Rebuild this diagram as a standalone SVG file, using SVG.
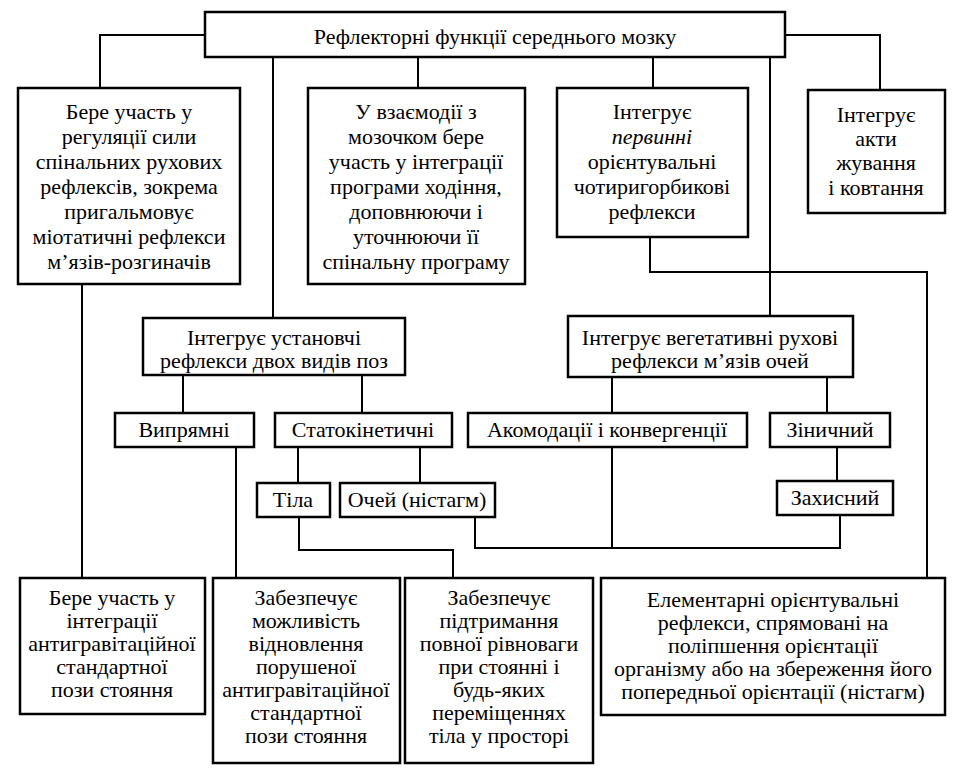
<svg xmlns="http://www.w3.org/2000/svg" width="954" height="779" viewBox="0 0 954 779">
<style>
.b{fill:#fff;stroke:#000;stroke-width:2.5}
.c{fill:none;stroke:#000;stroke-width:2}
text{font-family:"Liberation Serif","Times New Roman",serif;font-size:22px;fill:#000;text-anchor:middle}
</style>
<rect width="954" height="779" fill="#fff"/>
<g id="connectors">
<path class="c" d="M205 35H100V88M785 35H880V90M418 57V88M653 57V88M273 57V318M770 57V316M650 237V272H927V578M82 284V578M236 447V578M183 375V413M362 375V413M298 447V483M420 447V483M612 377V548M827 377V413M837 447V481M299 517V550H453V578M475 517V548H840V515"/>
</g>
<g id="top"><rect class="b" x="205" y="12" width="580" height="45"/><text x="495" y="44">Рефлекторні функції середнього мозку</text></g>
<g id="n1"><rect class="b" x="18" y="88" width="222" height="196"/>
<text x="129" y="119">Бере участь у</text><text x="129" y="144">регуляції сили</text><text x="129" y="169">спінальних рухових</text><text x="129" y="194">рефлексів, зокрема</text><text x="129" y="219">пригальмовує</text><text x="129" y="244">міотатичні рефлекси</text><text x="129" y="269">м’язів-розгиначів</text></g>
<g id="n2"><rect class="b" x="308" y="88" width="217" height="196"/>
<text x="416" y="119">У взаємодії з</text><text x="416" y="144">мозочком бере</text><text x="416" y="169">участь у інтеграції</text><text x="416" y="194">програми ходіння,</text><text x="416" y="219">доповнюючи і</text><text x="416" y="244">уточнюючи її</text><text x="416" y="269">спінальну програму</text></g>
<g id="n3"><rect class="b" x="557" y="88" width="191" height="149"/>
<text x="652" y="119">Інтегрує</text><text x="652" y="144" font-style="italic">первинні</text><text x="652" y="169">орієнтувальні</text><text x="652" y="194">чотиригорбикові</text><text x="652" y="219">рефлекси</text></g>
<g id="n4"><rect class="b" x="808" y="90" width="137" height="123"/>
<text x="876" y="122">Інтегрує</text><text x="876" y="146">акти</text><text x="876" y="170">жування</text><text x="876" y="195">і ковтання</text></g>
<g id="n5"><rect class="b" x="143" y="318" width="262" height="57"/>
<text x="274" y="345">Інтегрує установчі</text><text x="274" y="368">рефлекси двох видів поз</text></g>
<g id="n6"><rect class="b" x="568" y="316" width="285" height="61"/>
<text x="710" y="345">Інтегрує вегетативні рухові</text><text x="710" y="368">рефлекси м’язів очей</text></g>
<g id="n7"><rect class="b" x="115" y="413" width="139" height="34"/><text x="184" y="437">Випрямні</text></g>
<g id="n8"><rect class="b" x="275" y="413" width="177" height="34"/><text x="363" y="437">Статокінетичні</text></g>
<g id="n9"><rect class="b" x="468" y="413" width="279" height="34"/><text x="607" y="437">Акомодації і конвергенції</text></g>
<g id="n10"><rect class="b" x="770" y="413" width="120" height="34"/><text x="830" y="437">Зіничний</text></g>
<g id="n11"><rect class="b" x="257" y="483" width="73" height="34"/><text x="293" y="507">Тіла</text></g>
<g id="n12"><rect class="b" x="340" y="483" width="155" height="34"/><text x="417" y="507">Очей (ністагм)</text></g>
<g id="n13"><rect class="b" x="777" y="481" width="116" height="34"/><text x="835" y="505">Захисний</text></g>
<g id="n14"><rect class="b" x="20" y="578" width="185" height="136"/>
<text x="112" y="605">Бере участь у</text><text x="112" y="628">інтеграції</text><text x="112" y="651">антигравітаційної</text><text x="112" y="674">стандартної</text><text x="112" y="697">пози стояння</text></g>
<g id="n15"><rect class="b" x="213" y="578" width="187" height="185"/>
<text x="306" y="605">Забезпечує</text><text x="306" y="628">можливість</text><text x="306" y="651">відновлення</text><text x="306" y="674">порушеної</text><text x="306" y="697">антигравітаційної</text><text x="306" y="720">стандартної</text><text x="306" y="743">пози стояння</text></g>
<g id="n16"><rect class="b" x="405" y="578" width="188" height="185"/>
<text x="499" y="605">Забезпечує</text><text x="499" y="628">підтримання</text><text x="499" y="651">повної рівноваги</text><text x="499" y="674">при стоянні і</text><text x="499" y="697">будь-яких</text><text x="499" y="720">переміщеннях</text><text x="499" y="743">тіла у просторі</text></g>
<g id="n17"><rect class="b" x="601" y="578" width="344" height="137"/>
<text x="773" y="607">Елементарні орієнтувальні</text><text x="773" y="630">рефлекси, спрямовані на</text><text x="773" y="653">поліпшення орієнтації</text><text x="773" y="676">організму або на збереження його</text><text x="773" y="699">попередньої орієнтації (ністагм)</text></g>
</svg>
